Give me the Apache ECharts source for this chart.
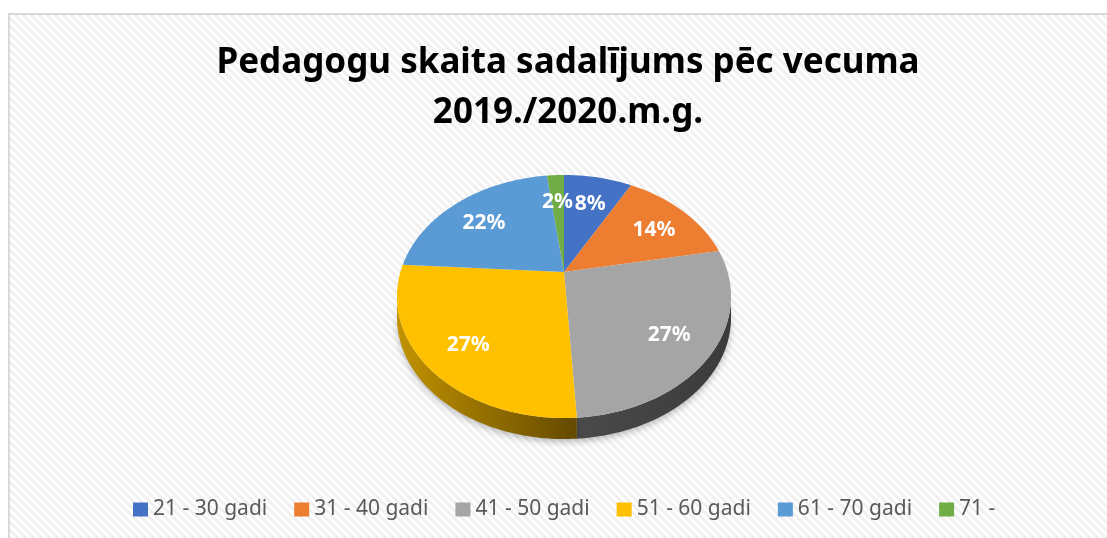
<!DOCTYPE html>
<html>
<head>
<meta charset="utf-8">
<script src="https://cdn.jsdelivr.net/npm/echarts@6/dist/echarts.min.js"></script>
<style>
  html, body { margin: 0; padding: 0; background: #fff; }
  #chart { width: 1107px; height: 538px; }
</style>
</head>
<body>
<div id="chart"></div>
<script>
const categories = ['21 - 30 gadi', '31 - 40 gadi', '41 - 50 gadi', '51 - 60 gadi', '61 - 70 gadi', '71 -'];
const shares = [8, 14, 27, 27, 22, 2];
const titleLines = ['Pedagogu skaita sadalījums pēc vecuma', '2019./2020.m.g.'];

const colors = ['#4472C4', '#ED7D31', '#A5A5A5', '#FFC000', '#5B9BD5', '#70AD47'];
// side wall shading (left -> right)
const wallColors = [
  ['#2f5597', '#203864'],
  ['#c55a11', '#843c0c'],
  ['#4a4a4a', '#3b3b3b'],
  ['#c29200', '#644a00'],
  ['#2e75b6', '#1f4e79'],
  ['#548235', '#385723']
];

const total = shares.reduce((s, v) => s + v, 0);

// fake 3d projection of the disc
const CX = 564, CY = 272, RX = 163.6, RY = 116.6, K = 0.2016, DEPTH = 21;
const SIDE_R = Math.acos(-K) * 180 / Math.PI;
const SIDE_L = 360 - SIDE_R;

function proj(deg, r) {
  const t = deg * Math.PI / 180;
  const x = r * Math.sin(t), z = -r * Math.cos(t);
  const w = 1 - K * z;
  return [CX + RX * x / w, CY + RY * z / w];
}

function arc(from, to) {
  const pts = [];
  for (let d = from; d < to; d += 1) pts.push(proj(d, 1));
  pts.push(proj(to, 1));
  return pts;
}

function renderItem(params, api) {
  const i = params.dataIndex;
  const v = api.value(0);
  const before = shares.slice(0, i).reduce((s, x) => s + x, 0);
  const a0 = before / total * 360;
  const a1 = (before + v) / total * 360;
  const children = [];

  const lo = Math.max(a0, SIDE_R), hi = Math.min(a1, SIDE_L);
  if (lo < hi) {
    const top = arc(lo, hi);
    const bottom = top.map(p => [p[0], p[1] + DEPTH]).reverse();
    children.push({
      type: 'polygon',
      shape: { points: top.concat(bottom) },
      style: {
        fill: new echarts.graphic.LinearGradient(0, 0, 1, 0, [
          { offset: 0, color: wallColors[i][0] },
          { offset: 1, color: wallColors[i][1] }
        ]),
        shadowBlur: 6,
        shadowColor: 'rgba(0,0,0,0.25)',
        shadowOffsetY: 3
      }
    });
  }

  children.push({
    type: 'polygon',
    shape: { points: [proj(0, 0)].concat(arc(a0, a1)) },
    style: { fill: colors[i] }
  });

  const lp = proj((a0 + a1) / 2, 0.74);
  children.push({
    type: 'text',
    z2: 10,
    style: {
      x: lp[0], y: lp[1] + 5,
      text: Math.round(v / total * 100) + '%',
      fill: '#fff',
      font: 'bold 21px "Noto Sans"',
      align: 'center',
      verticalAlign: 'middle'
    }
  });

  return { type: 'group', children: children };
}

// faint diagonal stripes of the chart area
const tile = document.createElement('canvas');
tile.width = 8; tile.height = 8;
const tc = tile.getContext('2d');
tc.fillStyle = '#ffffff';
tc.fillRect(0, 0, 8, 8);
tc.strokeStyle = '#f0f0f0';
tc.lineWidth = 3;
tc.beginPath();
tc.moveTo(-1, -1); tc.lineTo(9, 9);
tc.moveTo(-1, 7); tc.lineTo(1, 9);
tc.moveTo(7, -1); tc.lineTo(9, 1);
tc.stroke();

const chart = echarts.init(document.getElementById('chart'));
chart.setOption({
  color: colors,
  backgroundColor: '#ffffff',
  animation: false,
  graphic: [{
    type: 'rect',
    z: -10,
    shape: { x: 9, y: 14, width: 1120, height: 560 },
    style: { fill: { image: tile, repeat: 'repeat' }, stroke: '#d9d9d9', lineWidth: 2 }
  }],
  title: {
    text: titleLines.join('\n'),
    left: 563,
    top: 33,
    textAlign: 'center',
    textStyle: {
      fontFamily: 'Noto Sans',
      fontSize: 35,
      fontWeight: 'bold',
      color: '#000',
      lineHeight: 50
    }
  },
  legend: {
    left: 133,
    top: 499,
    padding: 0,
    icon: 'rect',
    itemWidth: 15,
    itemHeight: 14,
    itemGap: 27,
    data: categories,
    textStyle: { fontFamily: 'Noto Sans', fontSize: 21, color: '#595959' }
  },
  series: [
    {
      type: 'custom',
      coordinateSystem: 'none',
      renderItem: renderItem,
      data: shares.map((v, i) => ({ name: categories[i], value: [v] })),
      silent: true
    },
    {
      // carries the legend entries only
      type: 'pie',
      radius: [0, 0],
      center: [CX, CY],
      silent: true,
      label: { show: false },
      labelLine: { show: false },
      data: shares.map((v, i) => ({ name: categories[i], value: v }))
    }
  ]
});
</script>
</body>
</html>
